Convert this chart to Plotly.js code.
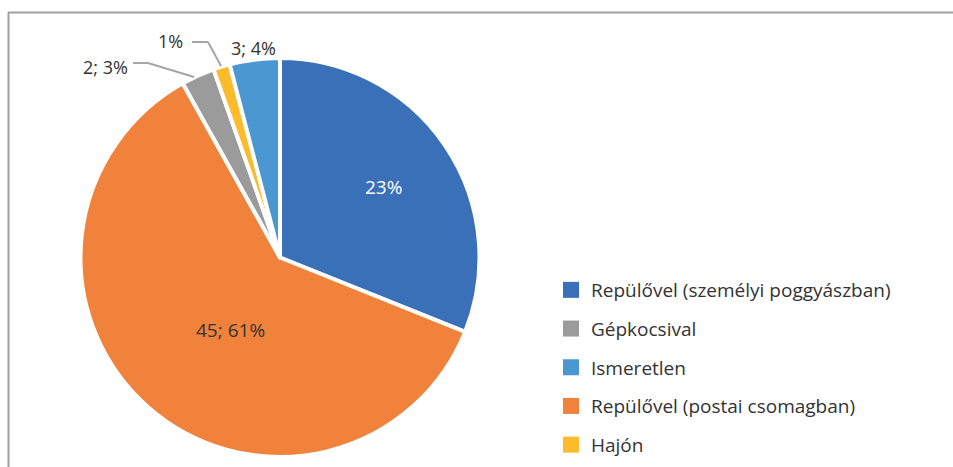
<!DOCTYPE html>
<html>
<head>
<meta charset="utf-8">
<script src="https://cdn.plot.ly/plotly-3.0.1.min.js"></script>
<style>html,body{margin:0;padding:0;background:#fff;}#chart{width:953px;height:467px;}</style>
</head>
<body>
<div id="chart"></div>
<script>
// Slices in clockwise order from 12 o'clock
const labels = ['Repülővel (személyi poggyászban)', 'Repülővel (postai csomagban)', 'Gépkocsival', 'Hajón', 'Ismeretlen'];
const values = [23, 45, 2, 1, 3];
const colors = ['#3A70B8', '#F0823C', '#9B9B9B', '#FBBB2B', '#4B97D1'];
// Legend order as in the reference
const legendOrder = ['Repülővel (személyi poggyászban)', 'Gépkocsival', 'Ismeretlen', 'Repülővel (postai csomagban)', 'Hajón'];

const W = 953, H = 467;
const total = values.reduce((a, b) => a + b, 0);
const pct = v => Math.round(100 * v / total);
const px = x => x / W;
const py = y => 1 - y / H;
const txt = '#333333';
const FONT = 'Open Sans, Noto Sans, sans-serif';

const pie = {
  type: 'pie',
  labels: labels,
  values: values,
  sort: false,
  direction: 'clockwise',
  rotation: 0,
  marker: {colors: colors, line: {color: '#ffffff', width: 4}},
  textinfo: 'none',
  hoverinfo: 'label+value+percent',
  showlegend: false,
  domain: {x: [px(80.5), px(479.5)], y: [py(457), py(58)]}
};

const legendTraces = legendOrder.map(name => {
  const i = labels.indexOf(name);
  return {
    type: 'scatter', mode: 'markers', x: [null], y: [null], name: name,
    legendgroup: 'g' + i,
    marker: {symbol: 'square', size: 16, color: colors[i]},
    hoverinfo: 'skip'
  };
});

// Slice labels (text derived from the data)
const labelText = {
  0: values[0] + '%',
  1: values[1] + '; ' + pct(values[1]) + '%',
  2: values[2] + '; ' + pct(values[2]) + '%',
  3: pct(values[3]) + '%',
  4: values[4] + '; ' + pct(values[4]) + '%'
};
const labelPos = {0: [383, 187], 1: [230, 330], 2: [105, 67], 3: [170, 41], 4: [253, 48]};
const annotations = [0, 1, 2, 3, 4].map(i => ({
  xref: 'paper', yref: 'paper', x: px(labelPos[i][0]), y: py(labelPos[i][1]),
  xanchor: 'center', yanchor: 'middle', showarrow: false,
  text: labelText[i], font: {family: FONT, size: i < 2 ? 19 : 18, color: i === 0 ? '#ffffff' : txt}
}));

const lc = {color: '#A6A6A6', width: 2};
const seg = (x0, y0, x1, y1, line) => ({type: 'line', xref: 'paper', yref: 'paper', x0: px(x0), y0: py(y0), x1: px(x1), y1: py(y1), line: line, layer: 'above'});
const shapes = [
  seg(133, 63, 148, 63, lc), seg(148, 63, 194, 77, lc),
  seg(192, 42, 208, 42, lc), seg(208, 42, 221, 66, lc),
  // frame
  seg(8.5, 12.5, 8.5, 470, {color: '#A0A0A0', width: 2}),
  seg(8, 12.5, 960, 12.5, {color: '#A0A0A0', width: 2})
];

const layout = {
  width: W, height: H, autosize: false,
  margin: {l: 0, r: 0, t: 0, b: 0},
  paper_bgcolor: '#ffffff', plot_bgcolor: '#ffffff',
  xaxis: {visible: false}, yaxis: {visible: false},
  showlegend: true,
  legend: {
    x: px(551), y: py(271), xanchor: 'left', yanchor: 'top',
    font: {family: FONT, size: 19, color: txt},
    tracegroupgap: 11, bgcolor: 'rgba(0,0,0,0)'
  },
  annotations: annotations,
  shapes: shapes
};

Plotly.newPlot('chart', [pie].concat(legendTraces), layout, {displayModeBar: false, staticPlot: true});
</script>
</body>
</html>
